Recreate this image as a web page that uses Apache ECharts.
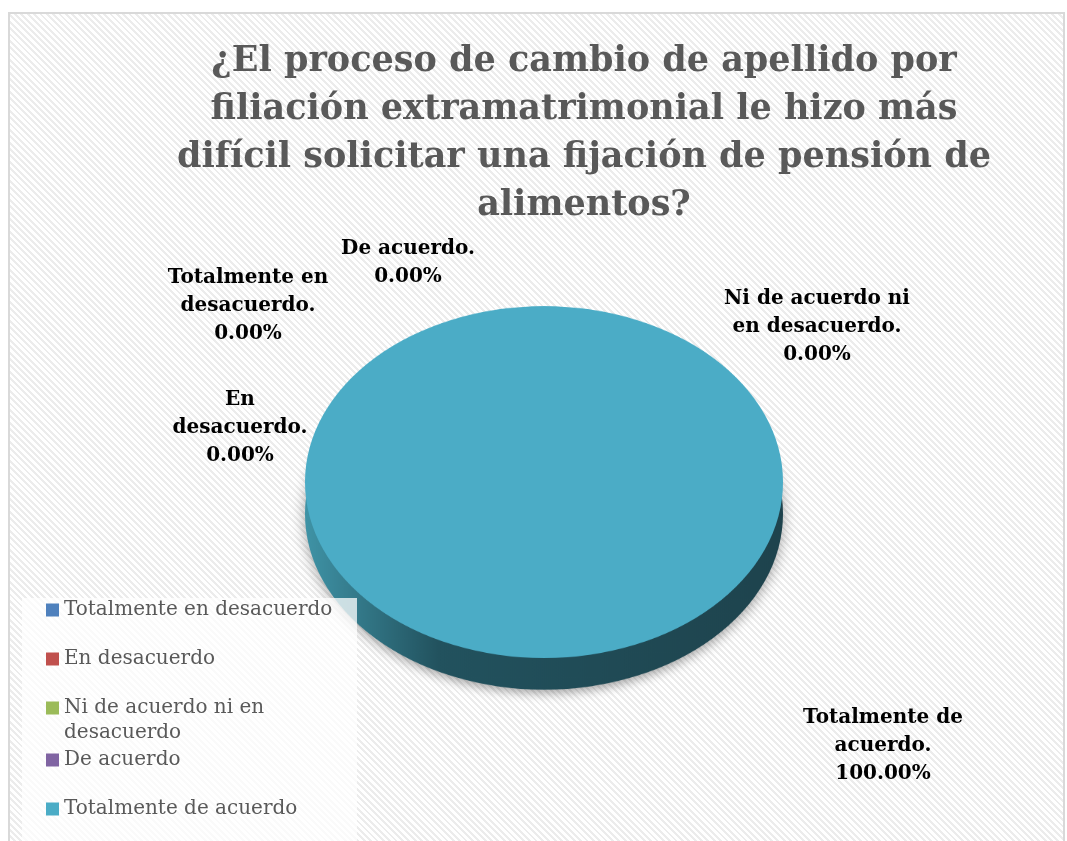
<!DOCTYPE html>
<html>
<head>
<meta charset="utf-8">
<script src="https://cdn.jsdelivr.net/npm/echarts@6/dist/echarts.min.js"></script>
<style>
  html, body { margin: 0; padding: 0; background: #fff; }
  #frame {
    position: absolute; left: 8px; top: 12px; width: 1053px; height: 840px;
    border: 2px solid #d9d9d9;
    background: repeating-linear-gradient(45deg, #ffffff 0px, #ffffff 2.5px, #ececec 2.5px, #ececec 4.5px);
  }
  #pie {
    position: absolute; left: 0; top: 0; width: 1067px; height: 1143px;
    transform: scaleY(0.736); transform-origin: 0 0;
  }
  #cajaLeyenda {
    position: absolute; left: 22px; top: 598px; width: 335px; height: 243px;
    background: rgba(255,255,255,0.75);
  }
  #main { position: absolute; left: 0; top: 0; width: 1067px; height: 841px; }
</style>
</head>
<body>
<div id="frame"></div>
<div id="pie"></div>
<div id="cajaLeyenda"></div>
<div id="main"></div>
<script>
// respuestas de la encuesta
const categorias = ['Totalmente en desacuerdo', 'En desacuerdo', 'Ni de acuerdo ni en desacuerdo', 'De acuerdo', 'Totalmente de acuerdo'];
const valores = [0, 0, 0, 0, 100];
// texto de las etiquetas como sale en el grafico (con saltos de linea)
const etiquetas = ['Totalmente en\ndesacuerdo.', 'En\ndesacuerdo.', 'Ni de acuerdo ni\nen desacuerdo.', 'De acuerdo.', 'Totalmente de\nacuerdo.'];
const leyenda = ['Totalmente en desacuerdo', 'En desacuerdo', 'Ni de acuerdo ni en\ndesacuerdo', 'De acuerdo', 'Totalmente de acuerdo'];
const colores = ['#4f81bd', '#c0504d', '#9bbb59', '#8064a2', '#4bacc6'];
const titulo = '¿El proceso de cambio de apellido por\nfiliación extramatrimonial le hizo más\ndifícil solicitar una fijación de pensión de\nalimentos?';

const serif = '"DejaVu Serif", "Liberation Serif", serif';

let datos = [];
for (let i = 0; i < categorias.length; i++) {
  datos.push({ name: categorias[i], value: valores[i] });
}

// pastel "3D": se dibuja en un div aplastado verticalmente
const pie = echarts.init(document.getElementById('pie'), null, { width: 1067, height: 1143 });
pie.setOption({
  animation: false,
  color: colores,
  series: [
    {
      // cara lateral (mas oscura)
      type: 'pie',
      center: [544, 698],
      radius: 239,
      silent: true,
      label: { show: false },
      labelLine: { show: false },
      itemStyle: {
        color: {
          type: 'linear', x: 0, y: 0, x2: 1, y2: 0,
          colorStops: [
            { offset: 0, color: '#3f93a6' },
            { offset: 0.28, color: '#22525e' },
            { offset: 1, color: '#1e434d' }
          ]
        },
        shadowBlur: 14,
        shadowColor: 'rgba(0,0,0,0.35)',
        shadowOffsetY: 5
      },
      data: datos
    },
    {
      // cara superior
      type: 'pie',
      center: [544, 655],
      radius: 239,
      silent: true,
      label: { show: false },
      labelLine: { show: false },
      data: datos
    }
  ]
});

// posiciones de las etiquetas (como estan colocadas a mano en el original)
const posEtiquetas = [[248, 306], [240, 428], [817, 327], [408, 263], [883, 746]];

function leyendaBase(items, top) {
  return {
    orient: 'vertical',
    left: 22,
    top: top,
    padding: [1, 22, 0, 24],
    itemWidth: 13,
    itemHeight: 13,
    itemGap: 29,
    icon: 'rect',
    selectedMode: false,
    textStyle: {
      rich: {
        a: { fontFamily: serif, fontSize: 20, color: '#595959', lineHeight: 25 }
      }
    },
    formatter: function (name) {
      const txt = leyenda[categorias.indexOf(name)];
      return txt.split('\n').map(function (s) { return '{a|' + s + '}'; }).join('\n');
    },
    data: items.map(function (name) {
      // la entrada en dos lineas: el icono va con la primera linea
      const lineas = leyenda[categorias.indexOf(name)].split('\n').length;
      return lineas > 1 ? { name: name, textStyle: { padding: [0, 0, -25 * (lineas - 1), 0] } } : name;
    })
  };
}

const chart = echarts.init(document.getElementById('main'), null, { width: 1067, height: 841 });
chart.setOption({
  animation: false,
  color: colores,
  title: {
    text: titulo,
    left: 584,
    textAlign: 'center',
    top: 38,
    padding: 0,
    textStyle: {
      fontFamily: serif,
      fontWeight: 'bold',
      fontSize: 35,
      lineHeight: 48,
      color: '#595959'
    }
  },
  legend: [
    leyendaBase(categorias.slice(0, 3), 599),
    leyendaBase(categorias.slice(3), 749)
  ],
  series: [{
    type: 'pie',
    center: [544, 482],
    radius: 1,
    silent: true,
    avoidLabelOverlap: false,
    percentPrecision: 2,
    labelLine: { show: false },
    label: {
      show: true,
      position: 'outside',
      fontFamily: serif,
      fontWeight: 'bold',
      fontSize: 20,
      lineHeight: 28,
      color: '#000',
      align: 'center',
      formatter: function (p) {
        return etiquetas[p.dataIndex] + '\n' + p.percent.toFixed(2) + '%';
      }
    },
    labelLayout: function (p) {
      const pos = posEtiquetas[p.dataIndex];
      return { x: pos[0], y: pos[1], align: 'center', verticalAlign: 'middle' };
    },
    data: datos
  }]
});
</script>
</body>
</html>
